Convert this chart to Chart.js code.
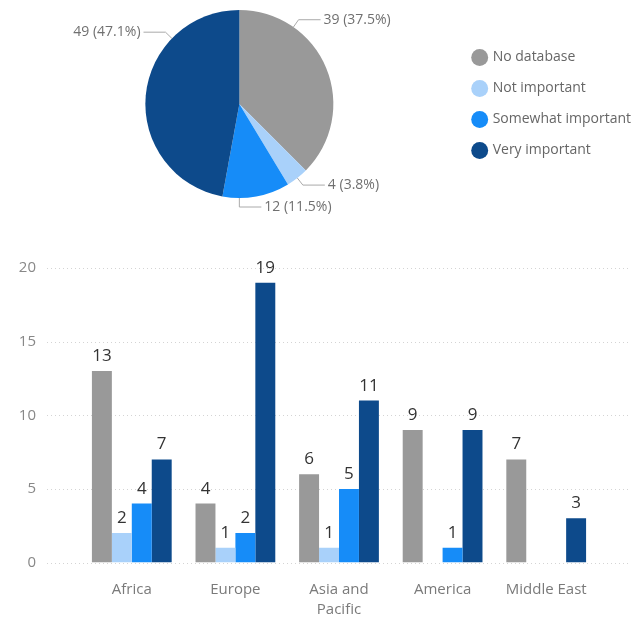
<!DOCTYPE html>
<html>
<head>
<meta charset="utf-8">
<script src="https://cdn.jsdelivr.net/npm/chart.js@4.4.1/dist/chart.umd.min.js"></script>
<style>
    html, body { margin: 0; padding: 0; background: #fff; }
    #wrap { position: relative; width: 641px; height: 622px; overflow: hidden; }
    #pieBox { position: absolute; left: 0; top: 0; width: 641px; height: 215px; }
    #barBox { position: absolute; left: 0; top: 240px; width: 641px; height: 397px; }
</style>
</head>
<body>
<div id="wrap">
    <div id="pieBox"><canvas id="pieChart"></canvas></div>
    <div id="barBox"><canvas id="barChart"></canvas></div>
</div>
<script>
/* ==================== Data ==================== */
const seriesNames = ['No database', 'Not important', 'Somewhat important', 'Very important'];
const pieValues = [39, 4, 12, 49];

const regions = ['Africa', 'Europe', ['Asia and', 'Pacific'], 'America', 'Middle East'];
const noDatabase = [13, 4, 6, 9, 7];
const notImportant = [2, 1, 1, 0, 0];
const somewhatImportant = [4, 2, 5, 1, 0];
const veryImportant = [7, 19, 11, 9, 3];

const yTicks = [0, 5, 10, 15, 20];

/* ==================== Style ==================== */
const COLORS = ['#999999', '#a9d1fa', '#168cf8', '#0d4a8b'];
const FONT = '"Open Sans", "Noto Sans", sans-serif';
// where along each slice the outside label is hooked (0 = start, 1 = end)
const labelHook = [0.26, 0.5, 0.75, 0.73];

Chart.defaults.font.family = FONT;
Chart.defaults.animation = false;

/* ==================== Pie labels plugin ==================== */
const pieLabels = {
    id: 'pieLabels',
    afterDatasetsDraw(chart) {
        const ctx = chart.ctx;
        const meta = chart.getDatasetMeta(0);
        const data = chart.data.datasets[0].data;
        const total = data.reduce((a, b) => a + b, 0);
        ctx.save();
        ctx.strokeStyle = '#aaaaaa';
        ctx.lineWidth = 1;
        ctx.fillStyle = '#707070';
        ctx.font = '14px ' + FONT;
        ctx.textBaseline = 'middle';
        meta.data.forEach((arc, i) => {
            const p = arc.getProps(['x', 'y', 'startAngle', 'endAngle', 'outerRadius'], true);
            const a = p.startAngle + (p.endAngle - p.startAngle) * labelHook[i];
            const cos = Math.cos(a), sin = Math.sin(a);
            const ax = p.x + cos * p.outerRadius;
            const ay = p.y + sin * p.outerRadius;
            const ex = p.x + cos * (p.outerRadius + 9);
            const ey = p.y + sin * (p.outerRadius + 9);
            const dir = cos >= -0.01 ? 1 : -1;
            const hx = ex + dir * 22;
            ctx.beginPath();
            ctx.moveTo(ax, ay);
            ctx.lineTo(ex, ey);
            ctx.lineTo(hx, ey);
            ctx.stroke();
            const pct = (data[i] / total * 100).toFixed(1);
            ctx.textAlign = dir > 0 ? 'left' : 'right';
            ctx.fillText(data[i] + ' (' + pct + '%)', hx + dir * 3, ey);
        });
        ctx.restore();
    }
};

/* ==================== Bar helpers plugin ==================== */
const barExtras = {
    id: 'barExtras',
    beforeDatasetsDraw(chart) {
        // dotted grid lines, a bit wider than the plot area
        const ctx = chart.ctx;
        const y = chart.scales.y;
        const area = chart.chartArea;
        ctx.save();
        ctx.strokeStyle = '#d4d4d4';
        ctx.lineWidth = 1;
        ctx.setLineDash([1, 3]);
        yTicks.forEach(v => {
            const py = Math.round(y.getPixelForValue(v)) + 0.5;
            ctx.beginPath();
            ctx.moveTo(area.left - 33, py);
            ctx.lineTo(area.right + 32, py);
            ctx.stroke();
        });
        ctx.restore();
    },
    afterDatasetsDraw(chart) {
        const ctx = chart.ctx;
        ctx.save();
        ctx.fillStyle = '#333333';
        ctx.font = '17px ' + FONT;
        ctx.textAlign = 'center';
        ctx.textBaseline = 'alphabetic';
        chart.data.datasets.forEach((ds, di) => {
            chart.getDatasetMeta(di).data.forEach((bar, i) => {
                const v = ds.data[i];
                if (!v) return;
                ctx.fillText(String(v), bar.x, bar.y - 10);
            });
        });
        ctx.restore();
    }
};

/* ==================== Pie chart ==================== */
new Chart(document.getElementById('pieChart'), {
    type: 'pie',
    data: {
        labels: seriesNames,
        datasets: [{
            data: pieValues,
            backgroundColor: COLORS,
            borderWidth: 0
        }]
    },
    options: {
        responsive: true,
        maintainAspectRatio: false,
        radius: 94,
        layout: { padding: { top: 4, bottom: 11, left: 22, right: 0 } },
        plugins: {
            legend: {
                position: 'right',
                labels: {
                    usePointStyle: true,
                    pointStyle: 'circle',
                    boxWidth: 12,
                    boxHeight: 12,
                    padding: 17,
                    color: '#666666',
                    font: { size: 14, family: FONT }
                }
            },
            tooltip: { enabled: false }
        }
    },
    plugins: [pieLabels]
});

/* ==================== Bar chart ==================== */
const barSeries = [noDatabase, notImportant, somewhatImportant, veryImportant];

new Chart(document.getElementById('barChart'), {
    type: 'bar',
    data: {
        labels: regions,
        datasets: barSeries.map((vals, i) => ({
            label: seriesNames[i],
            data: vals,
            backgroundColor: COLORS[i],
            borderWidth: 0,
            categoryPercentage: 0.77,
            barPercentage: 1
        }))
    },
    options: {
        responsive: true,
        maintainAspectRatio: false,
        layout: { padding: { top: 28, right: 43, left: 0, bottom: 0 } },
        plugins: {
            legend: { display: false },
            tooltip: { enabled: false }
        },
        scales: {
            x: {
                grid: { display: false, drawTicks: false },
                border: { display: false },
                ticks: {
                    color: '#7a7a7a',
                    padding: 17,
                    maxRotation: 0,
                    autoSkip: false,
                    font: { size: 15, family: FONT, lineHeight: 1.35 }
                }
            },
            y: {
                min: 0,
                max: 20,
                afterFit(scale) {
                    // wide gutter for the labels, without the extra top/bottom room
                    scale.width = 80;
                    scale.paddingTop = 0;
                    scale.paddingBottom = 0;
                },
                afterBuildTicks(scale) { scale.ticks = yTicks.map(v => ({ value: v })); },
                grid: { display: false, drawTicks: false },
                border: { display: false },
                ticks: {
                    color: '#888888',
                    padding: 44,
                    font: { size: 15, family: FONT }
                }
            }
        }
    },
    plugins: [barExtras]
});
</script>
</body>
</html>
